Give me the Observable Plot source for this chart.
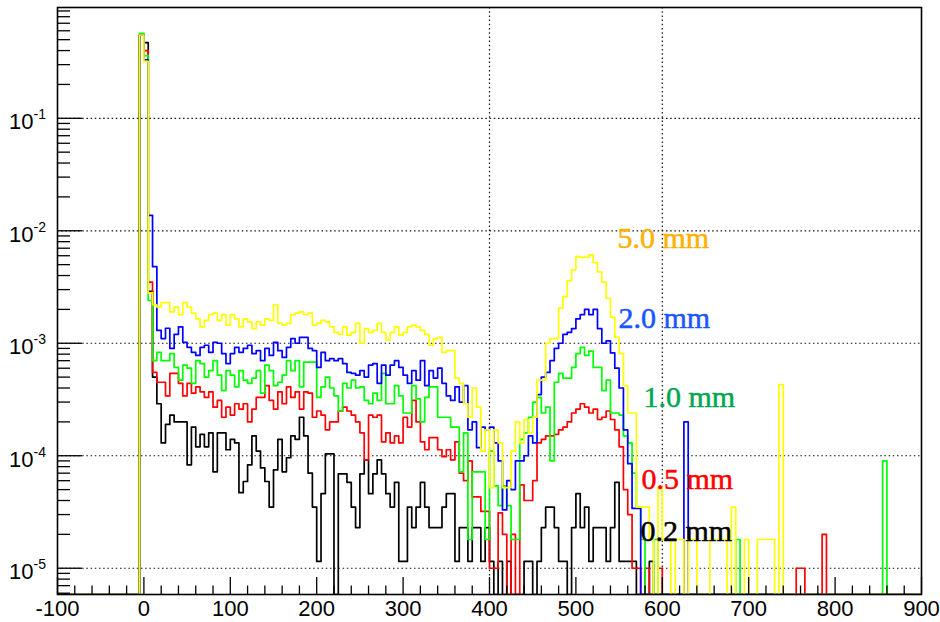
<!DOCTYPE html>
<html><head><meta charset="utf-8">
<script src="https://cdn.jsdelivr.net/npm/d3@7"></script>
<script src="https://cdn.jsdelivr.net/npm/@observablehq/plot@0.6"></script>
<style>html,body{margin:0;padding:0;background:#fff}#chart svg{display:block}</style>
</head><body><div id="chart"></div>
<script>
// ---- histogram binning ----
const xMin = -100, xMax = 900, binWidth = 5;
const firstBinLow = -5; // the arrays below start at the bin [-5, 0)

// ---- series values (bins from -5 upward) ----
const h50 = [0.55,0.32,2.8e-3,2.2e-3,2.1e-3,2.3e-3,2.3e-3,1.9e-3,2.1e-3,1.8e-3,
2.3e-3,2.1e-3,1.85e-3,1.65e-3,1.4e-3,1.6e-3,1.8e-3,1.85e-3,1.6e-3,1.8e-3,
1.45e-3,1.8e-3,1.65e-3,1.4e-3,1.65e-3,1.55e-3,1.35e-3,1.55e-3,1.45e-3,1.65e-3,
1.6e-3,2.2e-3,1.5e-3,1.45e-3,1.5e-3,1.8e-3,1.85e-3,1.9e-3,1.8e-3,1.85e-3,
1.45e-3,1.5e-3,1.6e-3,1.55e-3,1.4e-3,1.25e-3,1.2e-3,1.4e-3,1.18e-3,1.25e-3,
1.5e-3,1.0e-3,1.35e-3,1.25e-3,1.3e-3,1.5e-3,1.25e-3,1.07e-3,1.25e-3,1.4e-3,
1.18e-3,1.25e-3,1.4e-3,1.45e-3,1.4e-3,1.3e-3,1.2e-3,9.6e-4,1.1e-3,1.13e-3,
8.3e-4,8.6e-4,8.6e-4,4.9e-4,4.4e-4,2.9e-4,2.2e-4,4.0e-4,2.7e-4,1.1e-4,
1.7e-4,5.2e-5,1.7e-4,1.3e-4,5.2e-5,5.2e-5,1.1e-4,2.0e-4,1.3e-4,2.1e-4,
1.6e-4,2.2e-4,4.7e-4,4.7e-4,1.0e-3,1.1e-3,1.1e-3,2.05e-3,2.6e-3,3.6e-3,
4.5e-3,5.9e-3,5.8e-3,5.8e-3,6.1e-3,5.2e-3,4.3e-3,3.5e-3,2.5e-3,1.7e-3,
1.13e-3,8.1e-4,4.2e-4,2.4e-4,2.4e-4,3.5e-5];
const h20 = [0.55,0.33,1.37e-2,4.8e-3,1.3e-3,1.1e-3,1.36e-3,9e-4,1.2e-3,1.4e-3,
1.02e-3,9.2e-4,8.3e-4,7.8e-4,9.2e-4,9.6e-4,8.3e-4,1.02e-3,1e-3,8.1e-4,
6.6e-4,8.1e-4,9.2e-4,8.3e-4,9e-4,9.6e-4,8.1e-4,8.6e-4,7e-4,9e-4,
7.8e-4,1.02e-3,8.6e-4,7.5e-4,9.2e-4,1.1e-3,1e-3,1.13e-3,1.13e-3,9e-4,
8.6e-4,6.1e-4,8.3e-4,7e-4,7.3e-4,7e-4,7.3e-4,6.6e-4,5.5e-4,5.4e-4,
5.2e-4,5.7e-4,5e-4,6.4e-4,6.6e-4,4.4e-4,6.4e-4,5.2e-4,6.4e-4,7e-4,
6.1e-4,5.2e-4,4.4e-4,5.7e-4,4.7e-4,7e-4,4.2e-4,5.7e-4,4.9e-4,6e-4,
4.4e-4,3.4e-4,3.1e-4,4.1e-4,3e-4,4.2e-4,1.7e-4,2e-4,1.18e-4,1.8e-4,
1.7e-4,1.8e-4,1.3e-4,9e-5,3.3e-5,6e-5,5e-5,9e-5,9e-5,1.0e-4,
1.5e-4,1.3e-4,3.5e-4,5e-4,5.5e-4,7e-4,9e-4,1e-3,1.2e-3,1.25e-3,
1.35e-3,1.65e-3,1.8e-3,2.0e-3,1.8e-3,2.0e-3,1.35e-3,1.0e-3,1.05e-3,8.2e-4,
6e-4,4e-4,1.7e-4,8.5e-5,3.4e-5,3.4e-5];
const h10 = [0.57,0.36,2.4e-3,7e-4,8.3e-4,7e-4,7e-4,8.1e-4,6.1e-4,4.7e-4,
6.4e-4,6e-4,4.4e-4,7e-4,6.6e-4,5e-4,5.7e-4,7e-4,5.2e-4,3.8e-4,
5.7e-4,5.2e-4,4.1e-4,5.7e-4,4.7e-4,4.4e-4,4.9e-4,5.7e-4,3.6e-4,6.4e-4,
5.7e-4,4.2e-4,4.5e-4,5.2e-4,7e-4,5.7e-4,7e-4,4.1e-4,6.8e-4,6.8e-4,
6.8e-4,3.3e-4,4.1e-4,5e-4,4e-4,3.4e-4,2.5e-4,4.4e-4,4e-4,4.7e-4,
4e-4,4.1e-4,3.1e-4,2.9e-4,3.6e-4,3.1e-4,5.4e-4,2.9e-4,2.9e-4,4.2e-4,
3.4e-4,2.4e-4,2.4e-4,4.2e-4,3.2e-4,2e-4,3.3e-4,4.1e-4,4.1e-4,2.2e-4,
2.2e-4,2.2e-4,1.8e-4,1.8e-4,7.2e-5,1.6e-4,1.8e-5,7.2e-5,7.2e-5,7.2e-5,
1.8e-5,1.1e-4,5.4e-5,3.6e-5,5.4e-5,3.6e-5,1.8e-5,1.8e-5,1.4e-4,1.6e-4,
2.2e-4,3.0e-4,3.3e-4,2.4e-4,2.7e-4,9e-5,4.5e-4,5.4e-4,4.9e-4,4.9e-4,
6.1e-4,8.1e-4,9.2e-4,7.8e-4,8.5e-4,6.1e-4,6.1e-4,3.8e-4,4.7e-4,2.4e-4,
2.4e-4,2.3e-4,1.5e-4,1.3e-4,7e-5,3.5e-5];
const h05 = [0.55,0.40,3.5e-3,5.5e-4,4.5e-4,4.5e-4,3.4e-4,5.4e-4,5.4e-4,4.4e-4,
3.4e-4,4.4e-4,3.6e-4,4.1e-4,3.7e-4,3.3e-4,3.7e-4,2.7e-4,3.1e-4,2.2e-4,
2.7e-4,2.3e-4,2.9e-4,2.6e-4,2.9e-4,2e-4,2.6e-4,3.3e-4,3.3e-4,4.2e-4,
3.1e-4,2.6e-4,3.7e-4,2.9e-4,4.1e-4,3.3e-4,3.7e-4,2.6e-4,3.7e-4,3.6e-4,
2.2e-4,2.5e-4,2.3e-4,1.7e-4,2e-4,2e-4,2.5e-4,2.7e-4,2.5e-4,2.3e-4,
2e-4,1.6e-4,9.2e-5,2.3e-4,2.2e-4,2.3e-4,1.33e-4,1.6e-4,1.3e-4,1.5e-4,
1.3e-4,2.2e-4,1.8e-4,3.1e-4,2e-4,1.33e-4,1.13e-4,1.45e-4,1.45e-4,1.13e-4,
9.8e-5,1.13e-4,9.2e-5,1.33e-4,7e-5,6e-5,9e-5,4.3e-5,4.3e-5,3.2e-5,
3.2e-5,1e-5,1e-5,3.1e-5,2e-5,0,2e-5,0,5.5e-5,4e-5,
4e-5,6e-5,1.3e-4,1.4e-4,1.5e-4,1.5e-4,1.55e-4,1.7e-4,1.8e-4,2.0e-4,
2.4e-4,2.6e-4,2.9e-4,2.7e-4,2.4e-4,2.6e-4,2.1e-4,2.2e-4,2.5e-4,2.1e-4,
1.7e-4,1.2e-4,5e-5,3e-5,1e-5,1e-5];
const h02 = [0.55,0.47,2.9e-3,5e-4,2.9e-4,1.3e-4,1.9e-4,2.3e-4,2e-4,2e-4,
2e-4,8.3e-5,1.8e-4,1.2e-4,1.55e-4,1.2e-4,1.6e-4,7.2e-5,1.6e-4,1.6e-4,
1.13e-4,1.4e-4,1.3e-4,4.7e-5,5.9e-5,8.3e-5,1.5e-4,1.1e-4,7.8e-5,5.9e-5,
3.5e-5,7.5e-5,1.4e-4,7.2e-5,9.6e-5,1.5e-4,1.4e-4,2.2e-4,1.5e-4,7e-5,
3.5e-5,1.15e-5,4.6e-5,1.04e-4,1.04e-4,0,6.9e-5,6.9e-5,5.8e-5,3.5e-5,
2.3e-5,6.9e-5,9.2e-5,4.6e-5,6.9e-5,9.2e-5,6.9e-5,4.6e-5,3.5e-5,5.8e-5,
1.15e-5,1.15e-5,3.5e-5,2.3e-5,3.5e-5,5.8e-5,3.5e-5,2.3e-5,2.3e-5,2.3e-5,
3.5e-5,4.6e-5,4.6e-5,1.15e-5,2.3e-5,2.3e-5,1.15e-5,2.3e-5,2.3e-5,1.15e-5,
2.3e-5,1.15e-5,0,1.15e-5,0,1.15e-5,0,0,0,1.15e-5,
1.15e-5,0,1.15e-5,2.3e-5,3.5e-5,3.5e-5,2.3e-5,1.15e-5,1.15e-5,0,
2.3e-5,4.6e-5,2.3e-5,3.5e-5,1.15e-5,2.3e-5,2.3e-5,2.3e-5,1.15e-5,2.3e-5,
5.8e-5,1.15e-5,1.15e-5,1.15e-5,1.15e-5,0];

// isolated entries beyond the main arrays: [bin low edge, value]
const h50Tail = [[575,3.5e-5],[580,3.5e-5],[585,1.8e-5],[595,5.3e-5],[600,1.8e-5],[605,1.8e-5],
  [615,1.8e-5],[620,1.8e-5],[630,1.8e-5],[635,1.8e-5],[655,1.8e-5],[660,1.8e-5],[665,1.8e-5],
  [670,1.8e-5],[680,3.5e-5],[695,1.8e-5],[710,1.8e-5],[715,1.8e-5],[720,1.8e-5],[725,1.8e-5],[735,4.3e-4]];
const h20Tail = [[625,2.0e-4]];
const h10Tail = [[575,1.8e-5],[590,1.8e-5],[685,1.8e-5],[855,9e-5]];
const h05Tail = [[580,1e-5],[595,1e-5],[755,1e-5],[760,1e-5],[785,2e-5]];
const h02Tail = [[585,1.15e-5]];

const seriesNames  = ["0.2 mm","0.5 mm","1.0 mm","2.0 mm","5.0 mm"];
const seriesMain   = [h02, h05, h10, h20, h50];
const seriesTail   = [h02Tail, h05Tail, h10Tail, h20Tail, h50Tail];
const lineColors   = ["#000000","#ff0000","#00ff00","#0000ff","#ffff00"];
const labelColors  = ["#000000","#ff0000","#00a651","#1a55ff","#ffb000"];
const labelX       = [574.8, 575.9, 578.2, 549.3, 548.1];
const labelY       = [1.73e-5, 5.1e-5, 2.69e-4, 1.355e-3, 6.97e-3];

// ---- axes ----
const yDomain = [5.84e-6, 0.966];
const xTickValues = [-100,0,100,200,300,400,500,600,700,800,900];
const xGridValues = [400, 600];
const yDecades = [1e-1,1e-2,1e-3,1e-4,1e-5];
const yExponents = ["-1","-2","-3","-4","-5"];

// ---- build tables ----
function histogram(main, tail) {
  const rows = [];
  for (let x = xMin; x < xMax; x += binWidth) rows.push({x, v: 0});
  const off = (firstBinLow - xMin) / binWidth;
  main.forEach((v, i) => { rows[off + i].v = v; });
  tail.forEach(([x, v]) => { rows[Math.round((x - xMin) / binWidth)].v = v; });
  rows.push({x: xMax, v: 0});
  return rows;
}
const hists = seriesMain.map((m, i) => histogram(m, seriesTail[i]));

const xMinor = d3.range(xMin, xMax + 1, 20).filter(v => !xTickValues.includes(v));
const yMinor = [];
for (let e = -6; e <= -1; e++) for (let k = 2; k <= 9; k++) {
  const v = k * Math.pow(10, e);
  if (v >= yDomain[0] && v <= yDomain[1]) yMinor.push(v);
}

const W = 940, H = 622, mL = 57, mR = 19, mT = 7, mB = 28;
const fw = W - mL - mR, fh = H - mT - mB;
const sans = "'Liberation Sans', Arial, Helvetica, sans-serif";
const serif = "'Liberation Serif', 'Times New Roman', serif";

const marks = [
  Plot.ruleY(yDecades, {y: d => d, stroke: "#111", strokeWidth: 1.2, strokeDasharray: "1.5,2.7"}),
  Plot.ruleX(xGridValues, {x: d => d, stroke: "#111", strokeWidth: 1.2, strokeDasharray: "1.5,2.7"})
];
hists.forEach((rows, i) => {
  marks.push(Plot.line(rows, {
    x: "x", y: d => Math.max(d.v, yDomain[0]),
    curve: "step-after", stroke: lineColors[i], strokeWidth: 1.7, clip: true
  }));
});
marks.push(
  Plot.tickX(xTickValues, {x: d => d, insetTop: fh - 17, stroke: "#000", strokeWidth: 1.3}),
  Plot.tickX(xMinor, {x: d => d, insetTop: fh - 8.5, stroke: "#000", strokeWidth: 1.3}),
  Plot.tickY(yDecades, {y: d => d, insetRight: fw - 25, stroke: "#000", strokeWidth: 1.3}),
  Plot.tickY(yMinor, {y: d => d, insetRight: fw - 13, stroke: "#000", strokeWidth: 1.3}),
  Plot.text(xTickValues, {x: d => d, frameAnchor: "bottom", text: d => String(d), lineAnchor: "top",
    dy: 6, fontSize: 22, fill: "#000"}),
  Plot.text(yDecades, {y: d => d, frameAnchor: "left", text: () => "10", textAnchor: "end",
    lineAnchor: "bottom", dx: -24, dy: 11, fontSize: 22, fill: "#000"}),
  Plot.text(yDecades, {y: d => d, frameAnchor: "left", text: (d, i) => yExponents[i], textAnchor: "start",
    lineAnchor: "bottom", dx: -24, dy: 1, fontSize: 14, fill: "#000"}),
  Plot.text(seriesNames, {x: (d, i) => labelX[i], y: (d, i) => labelY[i], text: d => d,
    fill: (d, i) => labelColors[i], stroke: (d, i) => labelColors[i], strokeWidth: 0.5,
    textAnchor: "start", lineAnchor: "bottom", fontSize: 30, fontFamily: serif}),
  Plot.frame({stroke: "#000", strokeWidth: 1.6})
);

const chart = Plot.plot({
  width: W, height: H,
  marginLeft: mL, marginRight: mR, marginTop: mT, marginBottom: mB,
  x: {domain: [xMin, xMax], axis: null},
  y: {type: "log", domain: yDomain, axis: null},
  color: {type: "identity"},
  style: {fontFamily: sans, background: "#fff", overflow: "visible"},
  marks
});
document.getElementById("chart").appendChild(chart);
</script>
</body></html>
